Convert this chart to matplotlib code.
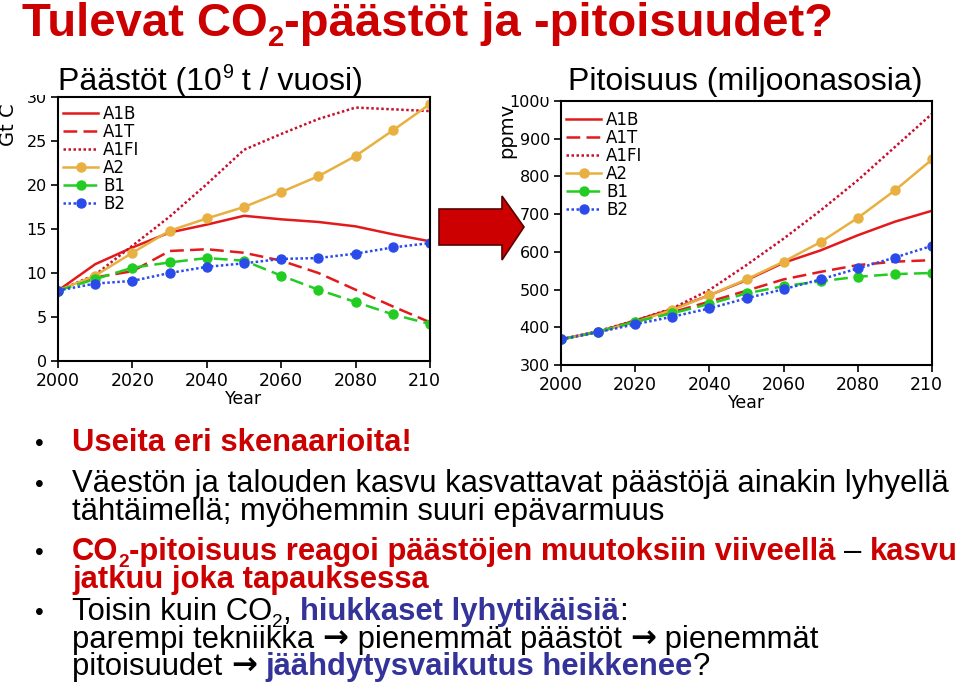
import matplotlib.pyplot as plt
from matplotlib.patches import Polygon, Rectangle
from matplotlib.transforms import IdentityTransform

# SRES scenarios
years = [2000, 2010, 2020, 2030, 2040, 2050, 2060, 2070, 2080, 2090, 2100]
scenarios = ['A1B', 'A1T', 'A1FI', 'A2', 'B1', 'B2']

# CO2 emissions, Gt C / year
emis_a1b = [8.0, 11.0, 12.9, 14.6, 15.5, 16.5, 16.1, 15.8, 15.3, 14.4, 13.6]
emis_a1t = [8.0, 9.5, 10.2, 12.5, 12.7, 12.3, 11.4, 10.0, 8.1, 6.2, 4.4]
emis_a1fi = [8.0, 9.8, 13.1, 16.4, 20.1, 24.0, 25.8, 27.5, 28.8, 28.6, 28.4]
emis_a2 = [8.0, 9.7, 12.3, 14.8, 16.2, 17.5, 19.2, 21.0, 23.3, 26.2, 29.2]
emis_b1 = [8.0, 9.3, 10.6, 11.2, 11.7, 11.4, 9.7, 8.1, 6.7, 5.3, 4.2]
emis_b2 = [8.0, 8.8, 9.1, 10.0, 10.7, 11.1, 11.6, 11.7, 12.2, 12.9, 13.4]

# CO2 concentration, ppmv
conc_a1b = [368, 388, 418, 448, 485, 525, 571, 604, 644, 680, 709]
conc_a1t = [368, 388, 414, 440, 468, 497, 527, 547, 565, 574, 578]
conc_a1fi = [368, 390, 418, 450, 499, 565, 635, 710, 790, 878, 966]
conc_a2 = [368, 388, 414, 446, 485, 527, 574, 626, 690, 763, 845]
conc_b1 = [368, 388, 415, 437, 462, 490, 509, 522, 534, 541, 544]
conc_b2 = [368, 387, 408, 428, 450, 477, 501, 527, 556, 585, 616]

emissions = [emis_a1b, emis_a1t, emis_a1fi, emis_a2, emis_b1, emis_b2]
concentrations = [conc_a1b, conc_a1t, conc_a1fi, conc_a2, conc_b1, conc_b2]

RED = '#cc0000'
BLUE = '#333399'
styles = [
    dict(color='#e31a1c', ls='-'),
    dict(color='#e31a1c', ls=(0, (5.5, 2.5))),
    dict(color='#c8102e', ls=(0, (1, 1))),
    dict(color='#e8b040', ls='-', marker='o'),
    dict(color='#22cc22', ls=(0, (5.5, 2.5)), marker='o'),
    dict(color='#2a4bea', ls=(0, (1, 1)), marker='o'),
]

W, H = 959, 691
SLIDE = ['Liberation Sans', 'DejaVu Sans']
PX = 100 / 72

fig = plt.figure(figsize=(W / 100, H / 100), dpi=100)


def panel(left, top, right, bottom):
    return fig.add_axes([left / W, 1 - bottom / H, (right - left) / W, (bottom - top) / H])


def draw_panel(ax, data, ylim, yticks, legend_top):
    for name, vals, st in zip(scenarios, data, styles):
        ax.plot(years, vals, lw=1.8, ms=6.5, label=name, **st)
    ax.set_xlim(2000, 2100)
    ax.set_ylim(*ylim)
    ax.set_xticks(range(2000, 2101, 20))
    ax.set_yticks(yticks)
    ax.tick_params(direction='out', length=5, width=1.2, pad=3)
    ax.tick_params(axis='x', labelsize=12.5)
    ax.tick_params(axis='y', labelsize=11.5)
    for s in ax.spines.values():
        s.set_linewidth(1.5)
    ax.set_xlabel('Year', fontsize=12.5, labelpad=0)
    ax.legend(loc='upper left', frameon=False, fontsize=12, handlelength=2.1,
              handletextpad=0.3, labelspacing=0.0, borderpad=0.1,
              borderaxespad=0.2, bbox_to_anchor=(0, legend_top))


ax1 = panel(58, 97, 430, 361)
draw_panel(ax1, emissions, (0, 30), range(0, 31, 5), 0.99)
ax2 = panel(561, 101, 932, 365)
draw_panel(ax2, concentrations, (300, 1000), range(300, 1001, 100), 0.982)

fig.text(9 / W, 1 - 125 / H, 'Gt C', rotation=90, ha='center', va='center', fontsize=14)
fig.text(507 / W, 1 - 130 / H, 'ppmv', rotation=90, ha='center', va='center', fontsize=14)

ident = IdentityTransform()


def cover(x0, y0, x1, y1):
    fig.add_artist(Rectangle((x0, H - y1), x1 - x0, y1 - y0, transform=ident,
                             facecolor='white', edgecolor='none', zorder=2))


# the slide crops the pasted figures
cover(15, 52, 445, 95)
cover(540, 52, 959, 97)
cover(441, 370, 500, 398)
cover(941, 372, 959, 400)

# arrow from emissions to concentrations
arrow = [(439, 209), (502, 209), (502, 196), (524, 227), (502, 260), (502, 245), (439, 245)]
fig.add_artist(Polygon([(x, H - y) for x, y in arrow], closed=True, transform=ident,
                       facecolor='#cc0000', edgecolor='#5a0000', lw=1.2, zorder=4))


def rich(x, base, parts, size):
    r = fig.canvas.get_renderer()
    for text, color, bold, pos in parts:
        fs = size * 0.62 if pos in ('sub', 'sup') else size
        shift = {'sub': -0.22, 'sup': 0.38}.get(pos, 0) * size * PX
        fam = ['DejaVu Sans'] if pos == 'sym' else SLIDE
        t = fig.text(x, H - base + shift, text, transform=ident, fontsize=fs,
                     color=color, family=fam, va='baseline', zorder=5,
                     fontweight='bold' if bold else 'normal')
        x = t.get_window_extent(r).x1
    return x


rich(22, 36, [('Tulevat CO', RED, True, None), ('2', RED, True, 'sub'),
              ('-päästöt ja -pitoisuudet?', RED, True, None)], 34)
rich(58, 90, [('Päästöt (10', 'black', False, None), ('9', 'black', False, 'sup'),
              (' t / vuosi)', 'black', False, None)], 23)
rich(568, 90, [('Pitoisuus (miljoonasosia)', 'black', False, None)], 23)

BODY = 22.3
for yb in (451, 492, 560, 620):
    rich(35, yb, [('•', 'black', False, None)], BODY * 0.8)

rich(72, 451, [('Useita eri skenaarioita!', RED, True, None)], BODY)
rich(72, 492, [('Väestön ja talouden kasvu kasvattavat päästöjä ainakin lyhyellä', 'black', False, None)], BODY)
rich(72, 520, [('tähtäimellä; myöhemmin suuri epävarmuus', 'black', False, None)], BODY)
rich(72, 560, [('CO', RED, True, None), ('2', RED, True, 'sub'),
               ('-pitoisuus reagoi päästöjen muutoksiin viiveellä ', RED, True, None),
               ('– ', 'black', False, None), ('kasvu', RED, True, None)], BODY)
rich(72, 588, [('jatkuu joka tapauksessa', RED, True, None)], BODY)
rich(72, 620, [('Toisin kuin CO', 'black', False, None), ('2', 'black', False, 'sub'),
               (', ', 'black', False, None), ('hiukkaset lyhytikäisiä', BLUE, True, None),
               (':', 'black', False, None)], BODY)
rich(72, 648, [('parempi tekniikka ', 'black', False, None), ('→', 'black', True, 'sym'),
               (' pienemmät päästöt ', 'black', False, None), ('→', 'black', True, 'sym'),
               (' pienemmät', 'black', False, None)], BODY)
rich(72, 675, [('pitoisuudet ', 'black', False, None), ('→', 'black', True, 'sym'),
               (' ', 'black', False, None),
               ('jäähdytysvaikutus heikkenee', BLUE, True, None),
               ('?', 'black', False, None)], BODY)

fig.savefig('out.png', dpi=100)
